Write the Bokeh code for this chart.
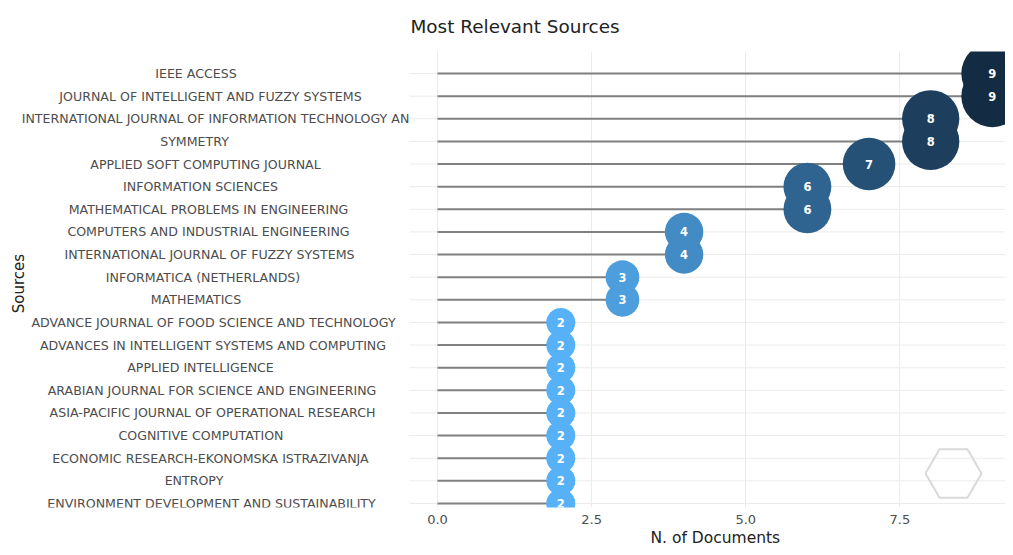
import math
from bokeh.plotting import figure
from bokeh.models import ColumnDataSource, Range1d, FixedTicker, NumeralTickFormatter, Title
from bokeh.embed import file_html
from bokeh.resources import INLINE
from bokeh.core.properties import value

# ---------------- data ----------------
sources = [
    "IEEE ACCESS",
    "JOURNAL OF INTELLIGENT AND FUZZY SYSTEMS",
    "INTERNATIONAL JOURNAL OF INFORMATION TECHNOLOGY AN",
    "SYMMETRY",
    "APPLIED SOFT COMPUTING JOURNAL",
    "INFORMATION SCIENCES",
    "MATHEMATICAL PROBLEMS IN ENGINEERING",
    "COMPUTERS AND INDUSTRIAL ENGINEERING",
    "INTERNATIONAL JOURNAL OF FUZZY SYSTEMS",
    "INFORMATICA (NETHERLANDS)",
    "MATHEMATICS",
    "ADVANCE JOURNAL OF FOOD SCIENCE AND TECHNOLOGY",
    "ADVANCES IN INTELLIGENT SYSTEMS AND COMPUTING",
    "APPLIED INTELLIGENCE",
    "ARABIAN JOURNAL FOR SCIENCE AND ENGINEERING",
    "ASIA-PACIFIC JOURNAL OF OPERATIONAL RESEARCH",
    "COGNITIVE COMPUTATION",
    "ECONOMIC RESEARCH-EKONOMSKA ISTRAZIVANJA",
    "ENTROPY",
    "ENVIRONMENT DEVELOPMENT AND SUSTAINABILITY",
]
documents = [9, 9, 8, 8, 7, 6, 6, 4, 4, 3, 3, 2, 2, 2, 2, 2, 2, 2, 2, 2]
x_ticks = [0, 2.5, 5, 7.5]
title_text = "Most Relevant Sources"
x_title = "N. of Documents"
y_title = "Sources"

# ---------------- styling helpers ----------------
LOW = (0x56, 0xB1, 0xF7)   # light blue (few documents)
HIGH = (0x13, 0x2B, 0x43)  # dark navy (many documents)
vmin, vmax = min(documents), max(documents)
PX = 61.65                 # pixels per document on the x scale
ZERO_PX = 437              # canvas x of the zero line
PANEL_PX = 409             # canvas x where the chart panel starts
W, H = 1005, 547
FONT = "DejaVu Sans"


def px(canvas_x):
    """canvas x (pixels) -> x data coordinate"""
    return (canvas_x - ZERO_PX) / PX


def grad(v):
    t = (v - vmin) / (vmax - vmin)
    r, g, b = (round(lo + t * (hi - lo)) for lo, hi in zip(LOW, HIGH))
    return "#%02x%02x%02x" % (r, g, b)


n = len(sources)
ypos = [n - 1 - i for i in range(n)]
src = ColumnDataSource(dict(
    name=sources,
    docs=documents,
    y=ypos,
    zero=[0] * n,
    gx0=[px(PANEL_PX)] * n,
    gx1=[px(W)] * n,
    label=[str(d) for d in documents],
    color=[grad(d) for d in documents],
    size=[29 + (d - vmin) * 4.72 for d in documents],
    lx=[px(190 + 0.5 * len(s)) for s in sources],
))

p = figure(
    width=W, height=H,
    x_range=Range1d(px(0), px(W)),
    y_range=Range1d(-0.177, n - 1 + 0.972),
    output_backend="svg", toolbar_location=None,
    min_border_left=0, min_border_right=0,
    min_border_top=51, min_border_bottom=40,
    background_fill_color="white", border_fill_color="white",
)
p.outline_line_color = None

# title
p.title.text = title_text
p.title.align = "left"
p.title.offset = PANEL_PX + 1
p.title.vertical_align = "top"
p.title.text_font = FONT
p.title.text_font_size = "18.4px"
p.title.text_font_style = "normal"
p.title.text_color = "#222222"
p.title.standoff = 26

# grid: vertical through the axis ticks, horizontal drawn over the panel only
p.xgrid.ticker = FixedTicker(ticks=x_ticks)
p.xgrid.grid_line_color = "#ebebeb"
p.xgrid.grid_line_width = 1
p.ygrid.visible = False
p.segment(x0="gx0", y0="y", x1="gx1", y1="y", source=src,
          line_color="#ebebeb", line_width=1)

# x axis
xa = p.xaxis[0]
xa.ticker = FixedTicker(ticks=x_ticks)
xa.formatter = NumeralTickFormatter(format="0.0")
xa.axis_line_color = None
xa.major_tick_line_color = None
xa.minor_tick_line_color = None
xa.major_tick_out = 0
xa.major_tick_in = 0
xa.minor_tick_out = 0
xa.major_label_text_font = FONT
xa.major_label_text_font_size = "13px"
xa.major_label_text_color = "#4d4d4d"
xa.major_label_standoff = 7

# x-axis title, centred under the chart panel
p.add_layout(Title(text=x_title, align="left", offset=650,
                   text_font=FONT, text_font_size="15.5px",
                   text_font_style="normal", text_color="#222222",
                   standoff=0), "below")

# y axis hidden (category labels drawn centred as text)
p.yaxis.visible = False

# lollipop stems
p.segment(x0="zero", y0="y", x1="docs", y1="y", source=src,
          line_color="#808080", line_width=2)

# bubbles
p.scatter(x="docs", y="y", size="size", source=src,
          fill_color="color", line_color=None, fill_alpha=1)

# bubble values
p.text(x="docs", y="y", text="label", source=src,
       text_align="center", text_baseline="middle",
       text_color="white", text_font=value(FONT),
       text_font_size="11.5px", text_font_style="bold")

# category labels, centred
p.text(x="lx", y="y", text="name", source=src,
       text_align="center", text_baseline="middle",
       text_font=value(FONT), text_font_size="12.6px",
       text_color="#4d4d4d")

# y-axis title
p.text(x=[px(18)], y=[(n - 1) / 2 + 0.22], text=[y_title],
       angle=math.pi / 2, text_align="center", text_baseline="middle",
       text_font=value(FONT), text_font_size="15px", text_color="#222222")

# faint logo hexagon (decoration)
p.scatter(x=[px(953)], y=[1.33], marker="hex", size=56,
          fill_color=None, line_color="#d9d9d9", line_width=2)

open("out.html", "w").write(file_html(p, INLINE))
